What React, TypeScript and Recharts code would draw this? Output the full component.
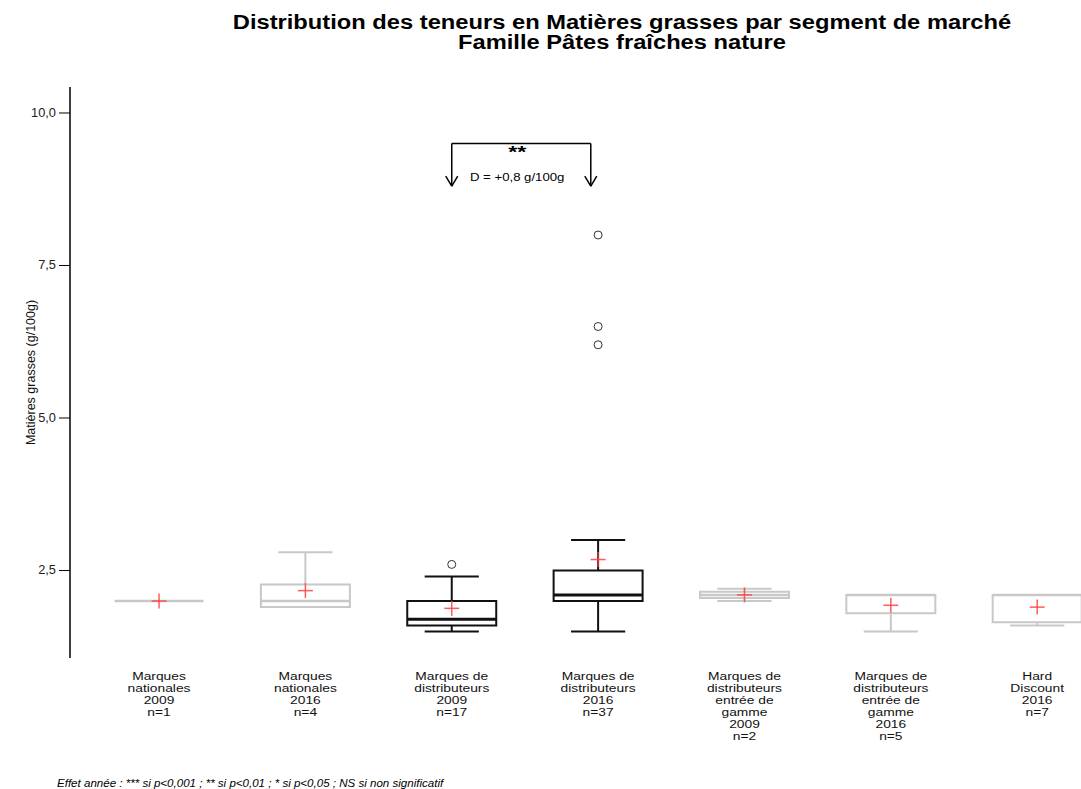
import React from 'react';
import {
  ComposedChart,
  XAxis,
  YAxis,
  Scatter,
  ReferenceArea,
  ReferenceLine,
  ReferenceDot,
} from 'recharts';

// segments de marché (libellés sur plusieurs lignes)
const segmentLabels = [
  ['Marques', 'nationales', '2009', 'n=1'],
  ['Marques', 'nationales', '2016', 'n=4'],
  ['Marques de', 'distributeurs', '2009', 'n=17'],
  ['Marques de', 'distributeurs', '2016', 'n=37'],
  ['Marques de', 'distributeurs', 'entrée de', 'gamme', '2009', 'n=2'],
  ['Marques de', 'distributeurs', 'entrée de', 'gamme', '2016', 'n=5'],
  ['Hard', 'Discount', '2016', 'n=7'],
];

// statistiques des boîtes (g/100g)
const mins = [2.0, 1.9, 1.5, 1.5, 2.0, 1.5, 1.6];
const q1s = [2.0, 1.9, 1.6, 2.0, 2.05, 1.8, 1.65];
const medians = [2.0, 2.0, 1.7, 2.1, 2.1, 2.1, 2.1];
const q3s = [2.0, 2.27, 2.0, 2.5, 2.15, 2.1, 2.1];
const maxs = [2.0, 2.8, 2.4, 3.0, 2.2, 2.1, 2.1];
const means = [2.0, 2.17, 1.88, 2.68, 2.1, 1.93, 1.9];
const outliers = [[], [], [2.6], [8.0, 6.5, 6.2], [], [], []];
// segments comparés par le test (en noir)
const tested = [false, false, true, true, false, false, false];

const yTicks = [2.5, 5, 7.5, 10];

// comparaison 2009 vs 2016 des MDD
const testFrom = 3;
const testTo = 3.95;
const bracketTop = 9.5;
const bracketTip = 8.8;
const textX = 3.447;
const starsText = '**';
const diffText = 'D = +0,8 g/100g';

const BOX_HALF = 0.304;
const CAP_HALF = 0.185;

const meanPoints = means.map((m, i) => ({ x: i + 1, y: m }));
const outlierPoints = outliers.flatMap((list, i) =>
  list.map((v) => ({ x: i + 1, y: v, tested: tested[i] }))
);

const colorFor = (i: number) => (tested[i] ? '#111' : '#c8c8c8');

const fmt = (v: number) => v.toFixed(1).replace('.', ',');

// the reference text is drawn a little wider than it is tall
const XTick = (props: any) => {
  const { x, y, payload } = props;
  const lines = segmentLabels[Math.round(payload.value) - 1] || [];
  return (
    <text
      transform={`translate(${x} ${y}) scale(1.2 1)`}
      x={0}
      y={0}
      textAnchor="middle"
      fontSize={11.5}
      fill="#111"
    >
      {lines.map((l, k) => (
        <tspan key={k} x={0} dy={k === 0 ? 14 : 12}>
          {l}
        </tspan>
      ))}
    </text>
  );
};

const YTick = (props: any) => {
  const { x, y, payload } = props;
  return (
    <text
      transform={`translate(${x} ${y}) scale(1.07 1)`}
      x={0}
      y={0}
      textAnchor="end"
      dominantBaseline="central"
      fontSize={12}
      fill="#222"
    >
      {fmt(payload.value)}
    </text>
  );
};

const Cross = (props: any) => {
  const { cx, cy } = props;
  return (
    <g stroke="#ff4040" strokeWidth={1.5} strokeOpacity={0.85}>
      <line x1={cx - 7.5} y1={cy} x2={cx + 7.5} y2={cy} />
      <line x1={cx} y1={cy - 7.5} x2={cx} y2={cy + 7.5} />
    </g>
  );
};

const Ring = (props: any) => {
  const { cx, cy, payload } = props;
  return (
    <circle
      cx={cx}
      cy={cy}
      r={4}
      fill="none"
      stroke={payload && payload.tested ? '#333' : '#999'}
      strokeWidth={1}
    />
  );
};

export default function App() {
  const boxElements: React.ReactNode[] = [];
  for (let k = 0; k < segmentLabels.length; k++) {
    const i = k + 1;
    const c = colorFor(k);
    boxElements.push(
      <ReferenceArea
        key={`box${k}`}
        x1={i - BOX_HALF}
        x2={i + BOX_HALF}
        y1={q1s[k]}
        y2={q3s[k]}
        fill="none"
        stroke={c}
        strokeWidth={2}
      />
    );
    if (maxs[k] > q3s[k]) {
      boxElements.push(
        <ReferenceLine key={`wu${k}`} segment={[{ x: i, y: q3s[k] }, { x: i, y: maxs[k] }]} stroke={c} strokeWidth={2} />,
        <ReferenceLine key={`cu${k}`} segment={[{ x: i - CAP_HALF, y: maxs[k] }, { x: i + CAP_HALF, y: maxs[k] }]} stroke={c} strokeWidth={2} />
      );
    }
    if (mins[k] < q1s[k]) {
      boxElements.push(
        <ReferenceLine key={`wl${k}`} segment={[{ x: i, y: q1s[k] }, { x: i, y: mins[k] }]} stroke={c} strokeWidth={2} />,
        <ReferenceLine key={`cl${k}`} segment={[{ x: i - CAP_HALF, y: mins[k] }, { x: i + CAP_HALF, y: mins[k] }]} stroke={c} strokeWidth={2} />
      );
    }
    boxElements.push(
      <ReferenceLine
        key={`med${k}`}
        segment={[{ x: i - BOX_HALF, y: medians[k] }, { x: i + BOX_HALF, y: medians[k] }]}
        stroke={c}
        strokeWidth={tested[k] ? 3 : 2.5}
      />
    );
  }

  const arrowDx = 0.041;
  const arrowDy = 0.164;
  const bracket = [
    [{ x: testFrom, y: bracketTop }, { x: testTo, y: bracketTop }],
    [{ x: testFrom, y: bracketTop }, { x: testFrom, y: bracketTip }],
    [{ x: testTo, y: bracketTop }, { x: testTo, y: bracketTip }],
    [{ x: testFrom - arrowDx, y: bracketTip + arrowDy }, { x: testFrom, y: bracketTip }],
    [{ x: testFrom + arrowDx, y: bracketTip + arrowDy }, { x: testFrom, y: bracketTip }],
    [{ x: testTo - arrowDx, y: bracketTip + arrowDy }, { x: testTo, y: bracketTip }],
    [{ x: testTo + arrowDx, y: bracketTip + arrowDy }, { x: testTo, y: bracketTip }],
  ];

  return (
    <div
      style={{
        position: 'absolute',
        left: 0,
        top: 0,
        width: 1081,
        height: 789,
        overflow: 'hidden',
        background: '#fff',
        fontFamily: 'Arial, "Liberation Sans", sans-serif',
      }}
    >
      <div
        style={{
          position: 'absolute',
          left: 222,
          top: 12,
          width: 800,
          textAlign: 'center',
          fontWeight: 'bold',
          fontSize: 20,
          lineHeight: '20px',
          color: '#000',
          transform: 'scaleX(1.185)',
          transformOrigin: '400px 0',
        }}
      >
        <div>Distribution des teneurs en Matières grasses par segment de marché</div>
        <div>Famille Pâtes fraîches nature</div>
      </div>

      <div style={{ position: 'absolute', left: 0, top: 0 }}>
        <ComposedChart
          width={1125}
          height={760}
          margin={{ top: 87, right: 0, bottom: 0, left: 0 }}
        >
          <XAxis
            type="number"
            dataKey="x"
            domain={[0.3917, 7.6]}
            ticks={[1, 2, 3, 4, 5, 6, 7]}
            interval={0}
            allowDataOverflow
            axisLine={false}
            tickLine={false}
            height={102}
            tick={<XTick />}
          />
          <YAxis
            type="number"
            dataKey="y"
            domain={[1.066, 10.426]}
            ticks={yTicks}
            allowDataOverflow
            width={70}
            tick={<YTick />}
            tickSize={11}
            tickMargin={3}
            axisLine={{ stroke: '#000', strokeWidth: 1.5 }}
            tickLine={{ stroke: '#000', strokeWidth: 1 }}
            label={{
              value: 'Matières grasses (g/100g)',
              angle: -90,
              position: 'insideLeft',
              offset: 31,
              fontSize: 12.5,
              fill: '#111',
              style: { textAnchor: 'middle' },
            }}
          />
          {boxElements}
          {bracket.map((seg, k) => (
            <ReferenceLine key={`br${k}`} segment={seg} stroke="#000" strokeWidth={1.5} />
          ))}
          <ReferenceDot
            x={textX}
            y={9.356}
            r={0}
            shape={(p: any) => (
              <text
                transform={`translate(${p.cx} ${p.cy}) scale(1.45 1)`}
                x={0}
                y={0}
                textAnchor="middle"
                dominantBaseline="central"
                fontSize={16}
                fontWeight="bold"
                fill="#000"
              >
                {starsText}
              </text>
            )}
          />
          <ReferenceDot
            x={textX}
            y={8.95}
            r={0}
            shape={(p: any) => (
              <text
                transform={`translate(${p.cx} ${p.cy}) scale(1.2 1)`}
                x={0}
                y={0}
                textAnchor="middle"
                dominantBaseline="central"
                fontSize={11}
                fill="#000"
              >
                {diffText}
              </text>
            )}
          />
          <Scatter data={outlierPoints} dataKey="y" shape={<Ring />} isAnimationActive={false} />
          <Scatter data={meanPoints} dataKey="y" shape={<Cross />} isAnimationActive={false} />
        </ComposedChart>
      </div>

      <div
        style={{
          position: 'absolute',
          left: 57,
          top: 777,
          fontSize: 10.5,
          lineHeight: '12px',
          fontStyle: 'italic',
          color: '#000',
          whiteSpace: 'nowrap',
          transform: 'scaleX(1.1)',
          transformOrigin: '0 0',
        }}
      >
        Effet année : *** si p&lt;0,001 ; ** si p&lt;0,01 ; * si p&lt;0,05 ; NS si non significatif
      </div>
    </div>
  );
}
